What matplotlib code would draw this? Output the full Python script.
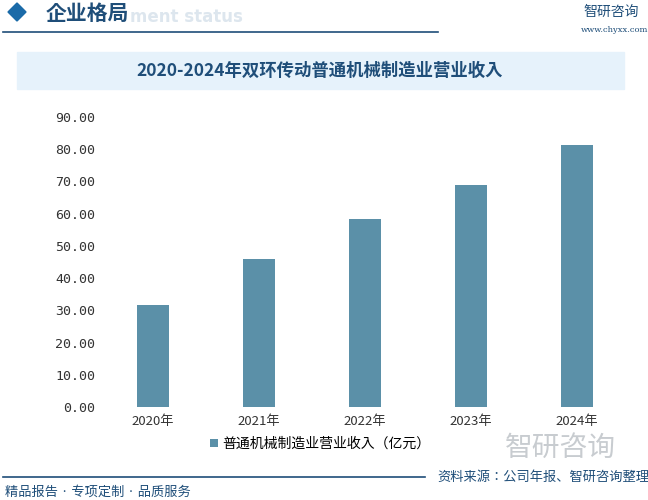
import matplotlib.pyplot as plt
from matplotlib.patches import Rectangle, Polygon

plt.rcParams['font.family'] = ['Noto Sans CJK JP', 'Noto Sans CJK SC', 'DejaVu Sans']

years = ["2020年", "2021年", "2022年", "2023年", "2024年"]
revenue = [31.7, 46.0, 58.2, 68.8, 81.2]
series_name = "普通机械制造业营业收入（亿元）"
yticks = [0, 10, 20, 30, 40, 50, 60, 70, 80, 90]

W, H = 648, 500
fig = plt.figure(figsize=(W / 100, H / 100), dpi=100)
dark = "#1f4e79"

# header
fig.patches.append(Polygon([[8/W, 1-12/H], [17/W, 1-3/H], [26/W, 1-12/H], [17/W, 1-21/H]],
                           closed=True, transform=fig.transFigure, color="#1a6aa8"))
fig.text(130/W, 1-17/H, "ment status", fontsize=12, color="#dde6ee", va="center", weight="bold",
         family="DejaVu Sans")
fig.text(46/W, 1-13/H, "企业格局", fontsize=15, color=dark, va="center", weight="bold")
fig.add_artist(plt.Line2D([3/W, 438/W], [1-32/H, 1-32/H], color=dark, lw=1.2, transform=fig.transFigure))
fig.text(583/W, 1-12/H, "智研咨询", fontsize=10, color=dark, va="center")
fig.text(581/W, 1-30/H, "www.chyxx.com", fontsize=6, color=dark, va="center", family="DejaVu Serif")

# title band
fig.patches.append(Rectangle((17/W, 1-89/H), 607/W, 37/H, transform=fig.transFigure,
                             color="#e6f2fb", zorder=0))
fig.text(320/W, 1-71/H, "2020-2024年双环传动普通机械制造业营业收入", fontsize=12.5,
         color=dark, ha="center", va="center", weight="bold")

ax = fig.add_axes([100/W, 1-407/H, 530/W, (407-117)/H])
bars = ax.bar(years, revenue, width=0.31, color="#5b90a8", label=series_name)
ax.set_ylim(0, 90)
ax.set_yticks(yticks)
ax.set_yticklabels([f"{v:.2f}" for v in yticks], family="DejaVu Sans Mono")
ax.tick_params(length=0, labelsize=9.5, colors="#333333")
ax.tick_params(axis="x", pad=6)
for s in ax.spines.values():
    s.set_visible(False)
ax.set_xlim(-0.5, 4.5)
ax.legend(loc="upper center", bbox_to_anchor=(0.415, -0.06), frameon=False, fontsize=10,
          handlelength=0.6, handleheight=0.6, handletextpad=0.3)

# footer
fig.add_artist(plt.Line2D([3/W, 425/W], [1-477/H, 1-477/H], color=dark, lw=1.2, transform=fig.transFigure))
fig.text(437/W, 1-477/H, "资料来源：公司年报、智研咨询整理", fontsize=9.5, color=dark, va="center")
fig.text(5/W, 1-492/H, "精品报告 · 专项定制 · 品质服务", fontsize=9.5, color=dark, va="center")
fig.text(560/W, 1-448/H, "智研咨询", fontsize=20, color="#c8ccd0", ha="center", va="center")

fig.savefig("out.png", dpi=100)
